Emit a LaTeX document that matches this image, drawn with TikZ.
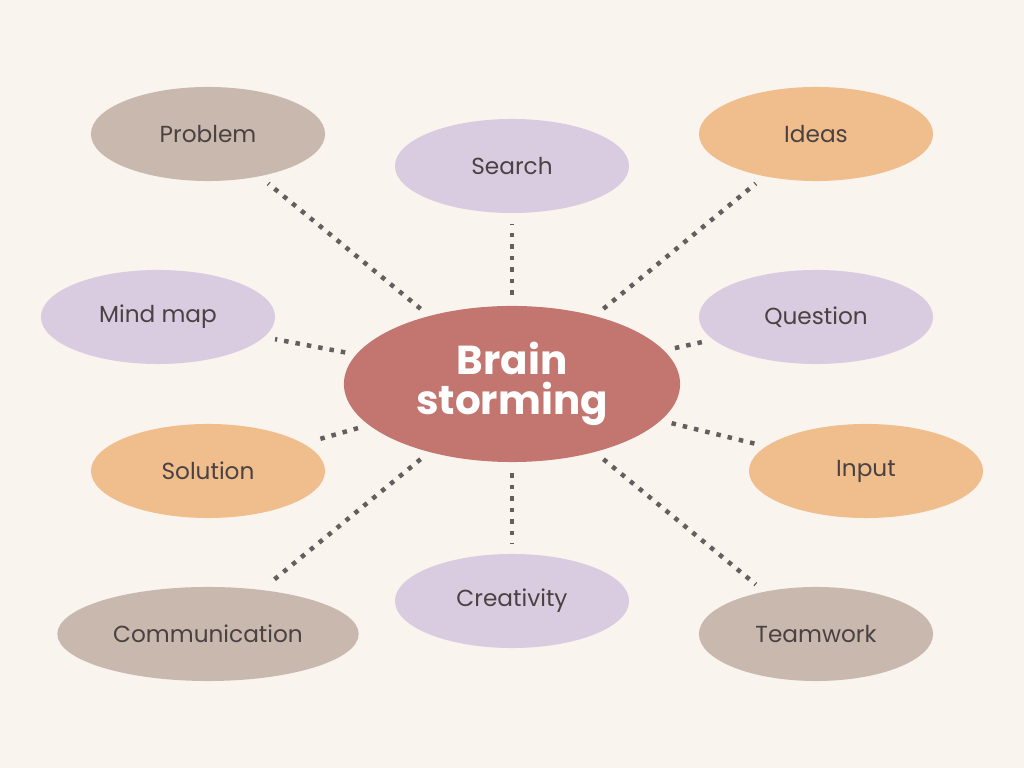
\documentclass[tikz,border=0pt]{standalone}
\usepackage{fontspec}
\setmainfont{Poppins}
\usetikzlibrary{shapes.geometric}
\definecolor{bg}{HTML}{FAF4EF}
\definecolor{taupe}{HTML}{C9B8AD}
\definecolor{lilac}{HTML}{D9CCE0}
\definecolor{peach}{HTML}{F0BD8C}
\definecolor{rose}{HTML}{C3756F}
\definecolor{ink}{HTML}{4A4242}
\tikzset{
  idea/.style={ellipse, minimum width=2.34cm, minimum height=0.94cm, text=ink, font=\fontsize{6.6}{8}\selectfont},
  link/.style={dotted, line width=0.45mm, draw=ink!85, shorten >=3pt, shorten <=3pt}
}
\begin{document}
\begin{tikzpicture}[x=0.01cm, y=-0.01cm]
\fill[bg] (0,0) rectangle (1024,768);
\useasboundingbox (0,0) rectangle (1024,768);

\node[ellipse, fill=rose, minimum width=3.36cm, minimum height=1.56cm, text=white,
  font=\bfseries\fontsize{11.5}{11.5}\selectfont, align=center] (brain) at (512,384) {Brain\\storming};

\node[idea, fill=taupe] (problem) at (208,134) {Problem};
\node[idea, fill=lilac] (search) at (512,166) {Search};
\node[idea, fill=peach] (ideas) at (816,134) {Ideas};
\node[idea, fill=lilac] (mindmap) at (158,317) {Mind map};
\node[idea, fill=lilac] (question) at (816,317) {Question};
\node[idea, fill=peach] (solution) at (208,471) {Solution};
\node[idea, fill=peach] (input) at (866,471) {Input};
\node[idea, fill=lilac] (creativity) at (512,601) {Creativity};
\node[idea, fill=taupe] (communication) at (208,634) {Communication};
\node[idea, fill=taupe] (teamwork) at (816,634) {Teamwork};

\foreach \n in {problem,search,ideas,mindmap,question,solution,input,creativity,communication,teamwork}
  \draw[link] (brain) -- (\n);
\end{tikzpicture}
\end{document}
